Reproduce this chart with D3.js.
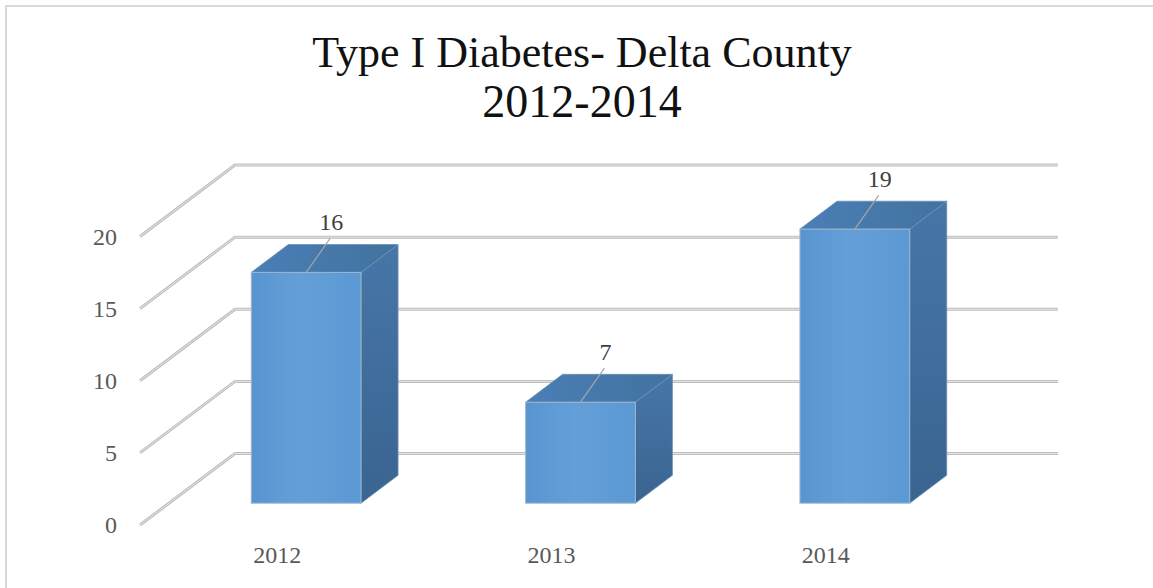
<!DOCTYPE html>
<html>
<head>
<meta charset="utf-8">
<script src="https://cdn.jsdelivr.net/npm/d3@7"></script>
<style>
  body { margin: 0; background: #fff; }
  svg { display: block; font-family: "Liberation Serif", "DejaVu Serif", serif; }
</style>
</head>
<body>
<div class="chart"></div>
<script>
const years = ["2012", "2013", "2014"];
const cases = [16, 7, 19];
const yTicks = [0, 5, 10, 15, 20];
const titleLines = ["Type I Diabetes- Delta County", "2012-2014"];

const width = 1153, height = 588;

// oblique 3d: front plane + depth vector to the back wall
const plot = {left: 140, right: 963, bottom: 525, top: 236.5},
      depth = {dx: 95, dy: -71.5},
      barZ = [0.305, 0.695];

const svg = d3.select(".chart").append("svg")
    .attr("width", width)
    .attr("height", height);

const defs = svg.append("defs");
const grad = (id, x2, y2, stops) => {
    const g = defs.append("linearGradient").attr("id", id)
        .attr("x1", 0).attr("y1", 0).attr("x2", x2).attr("y2", y2);
    stops.forEach(([o, c]) => g.append("stop").attr("offset", o).attr("stop-color", c));
};
grad("front", 1, 0, [[0, "#5895d0"], [0.45, "#649fd8"], [1, "#5b99d4"]]);
grad("top", 1, 0, [[0, "#4a7eb6"], [1, "#42739f"]]);
grad("side", 0, 1, [[0, "#4676a8"], [1, "#3a6491"]]);

// chart frame
svg.append("rect")
    .attr("x", 6).attr("y", 6)
    .attr("width", 1200).attr("height", 700)
    .attr("fill", "none")
    .attr("stroke", "#d9d9d9")
    .attr("stroke-width", 2);

svg.append("g")
    .attr("class", "title")
    .selectAll("text")
    .data(titleLines)
    .enter().append("text")
    .attr("x", 582)
    .attr("y", (d, i) => 67 + i * 50)
    .attr("text-anchor", "middle")
    .attr("font-size", (d, i) => i === 0 ? 44 : 46)
    .attr("fill", "#111")
    .text(d => d);

const x = d3.scaleBand()
    .domain(years)
    .range([plot.left, plot.right])
    .paddingInner(0.6)
    .paddingOuter(0.3);

const y = d3.scaleLinear()
    .domain([0, 20])
    .range([plot.bottom, plot.top]);

// gridlines: side wall diagonals + back wall horizontals
const grid = svg.append("g").attr("class", "grid");
const gridPath = t => {
    const y0 = y(t), y1 = y(t) + depth.dy, x1 = plot.left + depth.dx;
    return `M${plot.left},${y0}L${x1},${y1}L${plot.right + depth.dx},${y1}`;
};
[["#bdbdbd", 3], ["#e6e6e6", 1]].forEach(([c, w]) => {
    grid.append("g").selectAll("path")
        .data(yTicks)
        .enter().append("path")
        .attr("d", gridPath)
        .attr("fill", "none")
        .attr("stroke", c)
        .attr("stroke-width", w);
});

// bars
const data = years.map((d, i) => ({year: d, value: cases[i]}));
const fdx = barZ[0] * depth.dx, fdy = barZ[0] * depth.dy,
      ddx = (barZ[1] - barZ[0]) * depth.dx, ddy = (barZ[1] - barZ[0]) * depth.dy,
      bw = x.bandwidth();

const geo = d => {
    const x0 = x(d.year) + fdx, x1 = x0 + bw,
          yt = y(d.value) + fdy, yb = y(0) + fdy;
    return {x0, x1, yt, yb};
};

const bars = svg.append("g")
    .attr("class", "bars")
    .selectAll("g")
    .data(data)
    .enter().append("g");

bars.append("path")
    .attr("d", d => {
        const g = geo(d);
        return `M${g.x1},${g.yt}L${g.x1 + ddx},${g.yt + ddy}L${g.x1 + ddx},${g.yb + ddy}L${g.x1},${g.yb}Z`;
    })
    .attr("fill", "url(#side)")
    .attr("stroke", "#6c8fb3")
    .attr("stroke-width", 0.8);

bars.append("path")
    .attr("d", d => {
        const g = geo(d);
        return `M${g.x0},${g.yt}L${g.x1},${g.yt}L${g.x1 + ddx},${g.yt + ddy}L${g.x0 + ddx},${g.yt + ddy}Z`;
    })
    .attr("fill", "url(#top)")
    .attr("stroke", "#6c8fb3")
    .attr("stroke-width", 0.8);

bars.append("rect")
    .attr("x", d => geo(d).x0)
    .attr("y", d => geo(d).yt)
    .attr("width", bw)
    .attr("height", d => geo(d).yb - geo(d).yt)
    .attr("fill", "url(#front)")
    .attr("stroke", "#9fb7cf")
    .attr("stroke-width", 1);

// data labels with leader lines
bars.append("line")
    .attr("x1", d => geo(d).x0 + bw / 2)
    .attr("y1", d => geo(d).yt)
    .attr("x2", d => geo(d).x0 + bw / 2 + 24)
    .attr("y2", d => geo(d).yt - 34)
    .attr("stroke", "#a6a6a6")
    .attr("stroke-width", 1.2);

bars.append("text")
    .attr("x", d => geo(d).x0 + bw / 2 + 25)
    .attr("y", d => geo(d).yt - 42)
    .attr("text-anchor", "middle")
    .attr("font-size", 24)
    .attr("fill", "#404040")
    .text(d => d.value);

// axes
const yAxis = svg.append("g")
    .attr("class", "y axis")
    .attr("transform", `translate(${plot.left},0)`)
    .call(d3.axisLeft(y).tickValues(yTicks).tickSize(0).tickPadding(23));

const xAxis = svg.append("g")
    .attr("class", "x axis")
    .attr("transform", `translate(0,${plot.bottom})`)
    .call(d3.axisBottom(x).tickSize(0).tickPadding(21));

[yAxis, xAxis].forEach(a => {
    a.select(".domain").remove();
    a.selectAll("text")
        .attr("font-family", "Liberation Serif, serif")
        .attr("font-size", 24)
        .attr("fill", "#595959");
});
</script>
</body>
</html>
